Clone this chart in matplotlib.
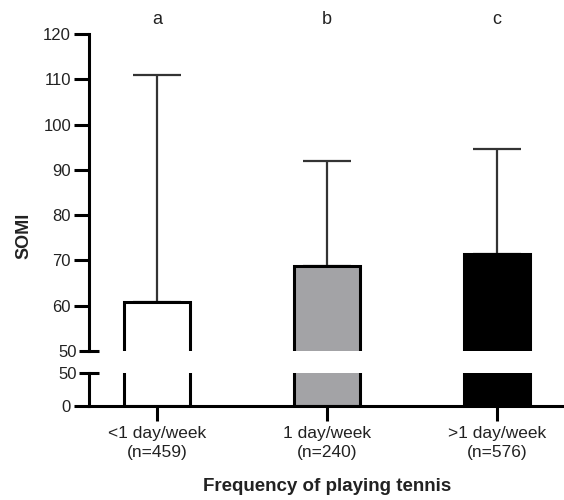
import matplotlib
matplotlib.use('Agg')
import matplotlib.pyplot as plt
import numpy as np

plt.rcParams['font.family'] = ['Liberation Sans', 'DejaVu Sans']

# DATA
groups = ['<1 day/week\n(n=459)', '1 day/week\n(n=240)', '>1 day/week\n(n=576)']
means = [60.8, 68.8, 71.4]
upper = [111.0, 92.0, 94.5]
letters = ['a', 'b', 'c']
colors = ['white', '#a3a3a6', 'black']

x = np.arange(len(groups))
err = [np.zeros(len(means)), np.array(upper) - np.array(means)]

LW = 2.2
TXT = '#222222'

fig = plt.figure(figsize=(5.64, 5.0), dpi=100)
ax_top = fig.add_axes([0.158, 0.298, 0.844, 0.634])
ax_bot = fig.add_axes([0.158, 0.189, 0.844, 0.065], sharex=ax_top)

for ax in (ax_top, ax_bot):
    ax.bar(x, means, width=0.39, color=colors, edgecolor='black',
           linewidth=LW, zorder=2)
    ax.errorbar(x, means, yerr=err, fmt='none', ecolor='#333333',
                elinewidth=1.6, capsize=17, capthick=1.6, zorder=1)
    ax.spines['right'].set_visible(False)
    ax.spines['top'].set_visible(False)
    ax.spines['left'].set_linewidth(LW)
    ax.spines['bottom'].set_linewidth(LW)
    ax.tick_params(axis='y', which='major', direction='out', length=11,
                   width=LW, labelsize=12, labelcolor=TXT, pad=2)
    ax.tick_params(axis='y', which='minor', direction='inout', length=14,
                   width=LW, labelsize=12, labelcolor=TXT, pad=2)

ax_top.set_xlim(-0.4, 2.4)

# upper segment
ax_top.set_ylim(50, 120)
ax_top.set_yticks(np.arange(60, 121, 10))
ax_top.set_yticks([50], minor=True)
ax_top.set_yticklabels(['50'], minor=True)
ax_top.spines['bottom'].set_visible(False)
ax_top.tick_params(axis='x', bottom=False, labelbottom=False)

for i, letter in enumerate(letters):
    ax_top.text(x[i], 123.2, letter, ha='center', va='center',
                fontsize=13, color=TXT, clip_on=False)

# lower segment
ax_bot.set_ylim(0, 50)
ax_bot.set_yticks([0])
ax_bot.set_yticks([50], minor=True)
ax_bot.set_yticklabels(['50'], minor=True)
ax_bot.set_xticks(x)
ax_bot.set_xticklabels(groups, linespacing=1.3)
ax_bot.tick_params(axis='x', direction='out', length=11, width=LW,
                   labelsize=12.5, labelcolor=TXT, pad=4)
ax_bot.set_xlabel('Frequency of playing tennis', fontsize=13.5,
                  fontweight='bold', color=TXT, labelpad=13)

fig.text(0.043, 1 - 236 / 500, 'SOMI', rotation=90, ha='center',
         va='center', fontsize=13, fontweight='bold', color=TXT)

fig.savefig('out.png', dpi=100)
